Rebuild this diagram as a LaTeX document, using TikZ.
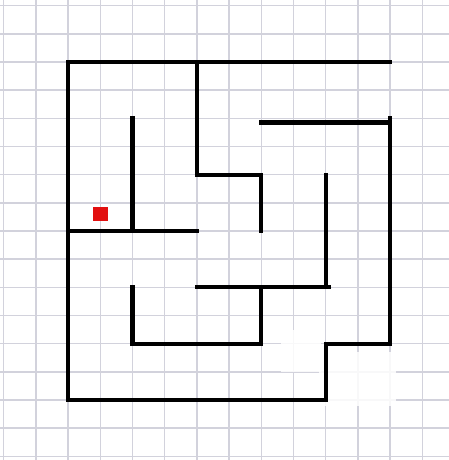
\documentclass[tikz,border=0pt]{standalone}
\usepackage{xcolor}
\usepackage{tikz}

\definecolor{gradecinza}{RGB}{210,210,220}
\definecolor{marcavermelha}{RGB}{226,16,16}

\begin{document}
\begin{tikzpicture}[x=0.644cm, y=-0.5633cm,
    grade/.style={gradecinza, line width=0.8pt},
    parede/.style={black, line width=2.4pt, line cap=rect, line join=miter},
    borracha/.style={white, opacity=0.85}]

    % Fundo e moldura
    \fill[white] (-0.112,-0.201) rectangle (13.83,16.13);
    \useasboundingbox (-0.112,-0.201) rectangle (13.83,16.13);

    % Papel quadriculado
    \foreach \i in {0,...,13} {
        \draw[grade] (\i,-0.201) -- (\i,16.13);
    }
    \foreach \j in {0,...,16} {
        \draw[grade] (-0.112,\j) -- (13.83,\j);
    }

    % Marcas apagadas no canto
    \fill[borracha] (9.8,12.3) rectangle (12.2,14.2);
    \fill[borracha] (8.6,11.5) rectangle (9.85,13.0);

    % Contorno do labirinto
    \draw[parede] (12,2) -- (2,2) -- (2,14) -- (10,14) -- (10,12) -- (12,12) -- (12,4);
    \draw[parede] (12,4) -- (12,4.15) -- (8,4.15);

    % Paredes internas
    \draw[parede] (4,4) -- (4,8);
    \draw[parede] (2,8) -- (6,8);
    \draw[parede] (6,2) -- (6,6) -- (8,6) -- (8,8);
    \draw[parede] (10,6) -- (10,10);
    \draw[parede] (6,10) -- (10.1,10);
    \draw[parede] (8,10) -- (8,12);
    \draw[parede] (4,10) -- (4,12) -- (8,12);

    % Ponto de partida
    \node[fill=marcavermelha, minimum width=0.31cm, minimum height=0.266cm, inner sep=0pt] (inicio) at (3.01,7.4) {};

\end{tikzpicture}
\end{document}
